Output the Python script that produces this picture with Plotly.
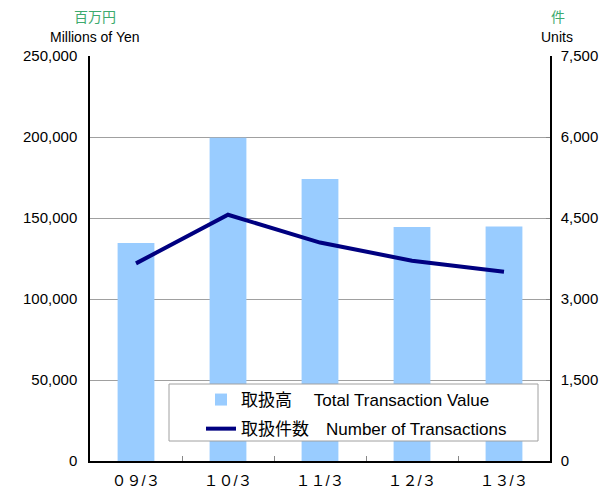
import plotly.graph_objects as go

categories = ["０９/３", "１０/３", "１１/３", "１２/３", "１３/３"]
value_million_yen = [134500, 199500, 174000, 144500, 144800]
num_transactions = [3660, 4560, 4045, 3710, 3505]

FONT = "Liberation Sans, Arial, Noto Sans CJK JP, sans-serif"
GREEN = "#3DAA6E"
W, H = 607, 488
L, R, T, B = 90, 57, 56, 27
PW, PH = W - L - R, H - T - B


def px_x(x):
    return (x - L) / PW


def px_y(y):
    return (H - B - y) / PH


fig = go.Figure()
fig.add_trace(go.Bar(
    x=categories, y=value_million_yen,
    name="取扱高　 Total Transaction Value",
    marker=dict(color="#99CCFF", line=dict(width=0)),
    width=0.4, yaxis="y", legendgroup="a",
))
fig.add_trace(go.Scatter(
    x=categories, y=num_transactions,
    name="取扱件数　Number of Transactions",
    mode="lines", line=dict(color="#000080", width=4),
    yaxis="y2", legendgroup="b",
))

# legend frame
fig.add_shape(type="rect", xref="paper", yref="paper",
              x0=px_x(169), x1=px_x(538), y0=px_y(441), y1=px_y(384),
              fillcolor="white", line=dict(color="#A0A0A0", width=1), layer="above")

fig.update_layout(
    width=W, height=H,
    margin=dict(l=L, r=R, t=T, b=B, autoexpand=False),
    paper_bgcolor="white", plot_bgcolor="white",
    font=dict(family=FONT, size=14, color="black"),
    showlegend=True,
    legend=dict(
        x=px_x(201), y=px_y(382), xanchor="left", yanchor="top",
        bgcolor="rgba(0,0,0,0)", borderwidth=0,
        font=dict(size=17, family=FONT),
        tracegroupgap=4, itemwidth=30,
    ),
    xaxis=dict(
        type="category",
        showline=True, linecolor="black", linewidth=1.5,
        ticks="inside", tickson="boundaries", ticklen=5, tickcolor="#888888",
        showgrid=False, tickfont=dict(size=15), ticklabelstandoff=5,
    ),
    yaxis=dict(
        range=[0, 250000], dtick=50000, tickformat=",",
        showline=True, linecolor="black", linewidth=1.5,
        showgrid=True, gridcolor="#A0A0A0", gridwidth=1,
        ticks="", zeroline=False, tickfont=dict(size=15), ticklabelstandoff=8,
    ),
    yaxis2=dict(
        range=[0, 7500], dtick=1500, tickformat=",",
        overlaying="y", side="right",
        showline=True, linecolor="black", linewidth=1.5,
        showgrid=False, ticks="inside", ticklen=4, tickcolor="#888888",
        zeroline=False, tickfont=dict(size=15), ticklabelstandoff=6,
    ),
)


def px_annot(text, x, y, color="black", size=14, family=FONT):
    fig.add_annotation(
        text=text, x=px_x(x), y=px_y(y),
        xref="paper", yref="paper", xanchor="center", yanchor="middle",
        showarrow=False, font=dict(color=color, size=size, family=family),
    )


px_annot("百万円", 95, 16, color=GREEN, size=14, family="Noto Sans CJK JP")
px_annot("Millions of Yen", 95, 37)
px_annot("件", 558, 16, color=GREEN, size=14, family="Noto Sans CJK JP")
px_annot("Units", 557, 37)

fig.write_html("out.html", post_script="document.body.style.margin='0';",
               config={"displayModeBar": False})
